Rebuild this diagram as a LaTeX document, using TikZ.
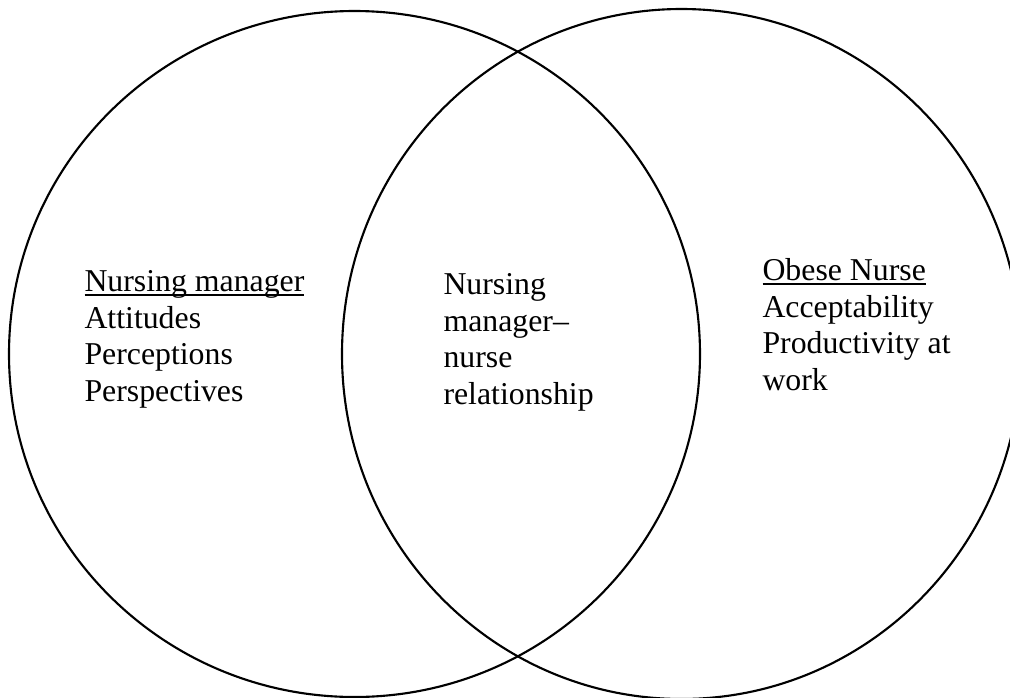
\documentclass[tikz,border=0pt]{standalone}
\usepackage{fontspec}
\setmainfont{Liberation Serif}

% underline that runs through the descenders
\newcommand{\headline}[1]{\setbox0\hbox{#1}\rlap{\rule[-1.6pt]{\wd0}{0.6pt}}#1}

\begin{document}
\begin{tikzpicture}[
  x=0.3774pt, y=-0.3774pt,
  setline/.style={line width=0.8pt},
  label/.style={align=left, anchor=north west, inner sep=0pt, font=\fontsize{12}{13.8}\selectfont}
]

\useasboundingbox (0,0) rectangle (1010,698);
\clip (0,0) rectangle (1010,698);

% the two overlapping sets
\draw[setline] (354.5,354) ellipse [x radius=345.5, y radius=343];
\draw[setline] (681.5,354) ellipse [x radius=339.5, y radius=345];

\node[label] (manager) at (84,270) {\headline{Nursing manager}\\Attitudes\\Perceptions\\Perspectives};
\node[label] (relation) at (443,273) {Nursing\\manager--\\nurse\\relationship};
\node[label] (nurse) at (762,258) {\headline{Obese Nurse}\\Acceptability\\Productivity at\\work};

\end{tikzpicture}
\end{document}
